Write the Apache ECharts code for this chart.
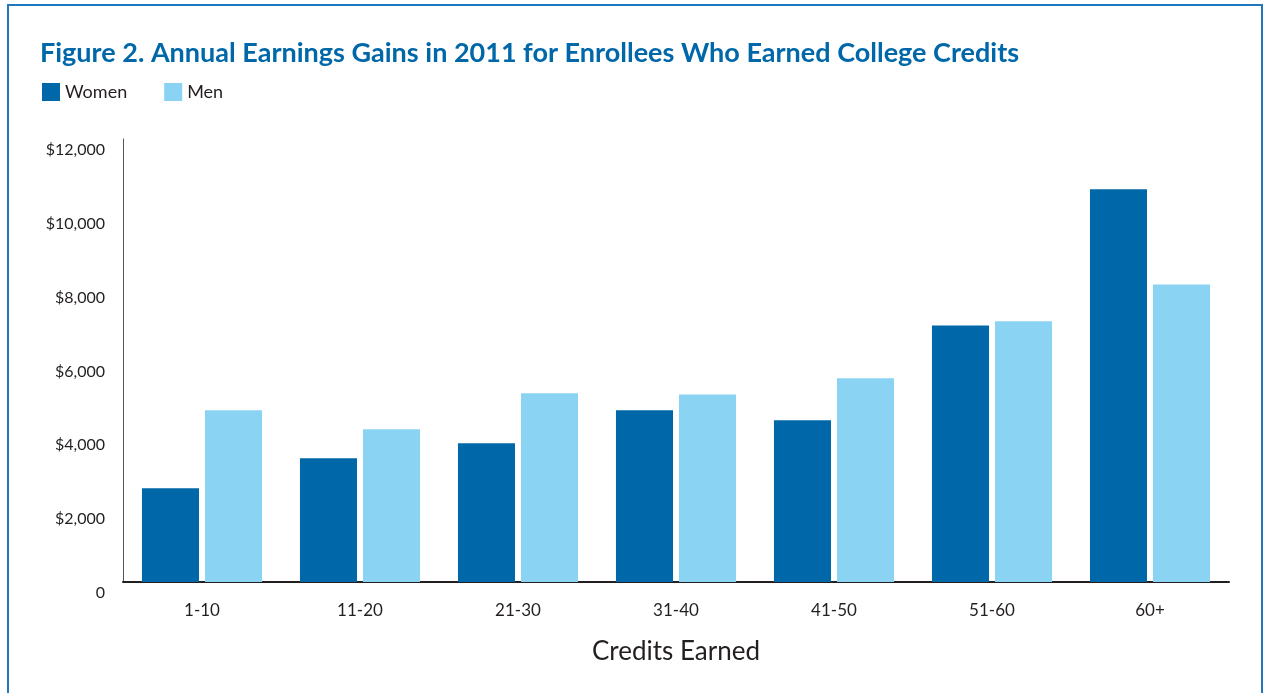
<!DOCTYPE html>
<html>
<head>
<meta charset="utf-8">
<script src="https://cdn.jsdelivr.net/npm/echarts@6/dist/echarts.min.js"></script>
<style>
html, body { margin: 0; padding: 0; background: #fff; }
#chart { width: 1266px; height: 693px; }
</style>
</head>
<body>
<div id="chart"></div>
<script>
// data
const categories = ['1-10', '11-20', '21-30', '31-40', '41-50', '51-60', '60+'];
const women = [2540, 3350, 3760, 4650, 4380, 6950, 10640];
const men = [4650, 4140, 5110, 5080, 5520, 7060, 8060];
const yTicks = [0, 2000, 4000, 6000, 8000, 10000, 12000];

let chart = echarts.init(document.getElementById('chart'));
let font = 'Lato';
let option = {
    backgroundColor: '#fff',
    animation: false,
    title: {
        text: 'Figure 2. Annual Earnings Gains in 2011 for Enrollees Who Earned College Credits',
        left: 35,
        top: 35,
        textStyle: {
            color: '#0068a9',
            fontFamily: font,
            fontWeight: 'bold',
            fontSize: 27
        }
    },
    // frame round the figure
    graphic: [{
        type: 'rect',
        shape: { x: 8, y: 5, width: 1254, height: 720 },
        style: { fill: 'none', stroke: '#1f78bd', lineWidth: 2 },
        silent: true
    }],
    legend: {
        left: 42,
        top: 83,
        padding: 0,
        itemWidth: 18,
        itemHeight: 18,
        itemGap: 37,
        icon: 'rect',
        textStyle: {
            color: '#231f20',
            fontFamily: font,
            fontSize: 18
        },
        data: ['Women', 'Men']
    },
    grid: {
        left: 123,
        right: 37,
        top: 139,
        bottom: 111
    },
    xAxis: {
        type: 'category',
        data: categories,
        name: 'Credits Earned',
        nameLocation: 'middle',
        nameGap: 57,
        nameTextStyle: {
            color: '#231f20',
            fontFamily: font,
            fontSize: 26
        },
        axisLabel: {
            interval: 0,
            margin: 20,
            color: '#231f20',
            fontFamily: font,
            fontSize: 17
        },
        axisTick: { show: false },
        axisLine: {
            lineStyle: { color: '#231f20', width: 2 }
        }
    },
    yAxis: {
        type: 'value',
        min: yTicks[0],
        max: yTicks[yTicks.length - 1],
        interval: yTicks[1] - yTicks[0],
        axisLabel: {
            margin: 18,
            color: '#231f20',
            fontFamily: font,
            fontSize: 16,
            verticalAlign: 'top',
            padding: [3, 0, 0, 0],
            formatter: function (v) {
                return v === 0 ? '0' : '$' + v.toLocaleString('en-US');
            }
        },
        axisLine: {
            show: true,
            lineStyle: { color: '#555', width: 1 }
        },
        axisTick: { show: false },
        splitLine: { show: false }
    },
    series: [
        {
            name: 'Women',
            type: 'bar',
            data: women,
            barGap: '10.5%',
            barCategoryGap: '24%',
            itemStyle: { color: '#0068a9' }
        },
        {
            name: 'Men',
            type: 'bar',
            data: men,
            itemStyle: { color: '#8bd3f3' }
        }
    ]
};
chart.setOption(option);
</script>
</body>
</html>
